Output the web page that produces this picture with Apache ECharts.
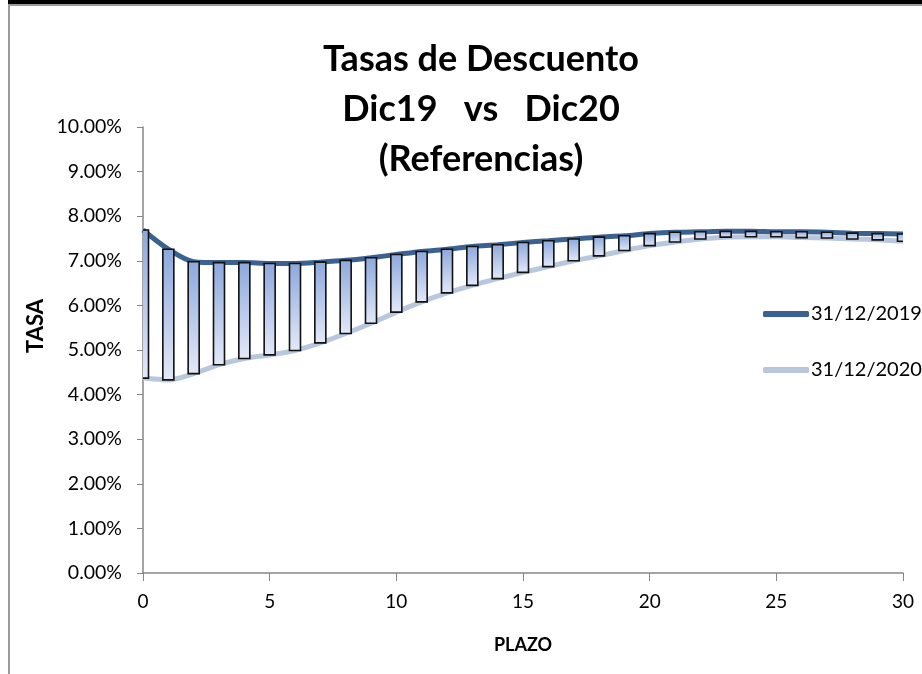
<!DOCTYPE html>
<html lang="es">
<head>
<meta charset="UTF-8">
<script src="https://cdn.jsdelivr.net/npm/echarts@6/dist/echarts.min.js"></script>
<style>
  html, body { margin: 0; padding: 0; background: #fff; }
  #main { width: 922px; height: 674px; }
</style>
</head>
<body>
<div id="main"></div>
<script>
// plazos (años)
var plazos = [0,1,2,3,4,5,6,7,8,9,10,11,12,13,14,15,16,17,18,19,20,21,22,23,24,25,26,27,28,29,30];
// tasas en %
var tasas2019 = [7.69,7.26,6.98,6.96,6.96,6.94,6.94,6.97,7.01,7.07,7.14,7.21,7.26,7.32,7.36,7.41,
                 7.45,7.49,7.53,7.56,7.61,7.64,7.65,7.66,7.66,7.65,7.65,7.64,7.62,7.61,7.60];
var tasas2020 = [4.37,4.33,4.47,4.67,4.81,4.89,4.99,5.16,5.37,5.60,5.85,6.08,6.28,6.45,6.60,6.74,
                 6.87,7.00,7.11,7.23,7.34,7.42,7.49,7.53,7.54,7.54,7.52,7.51,7.49,7.47,7.44];
var nombres = ['31/12/2019', '31/12/2020'];
var xTicks = [0, 5, 10, 15, 20, 25, 30];

var FONT = 'Lato, "Open Sans", sans-serif';

var linea2019 = plazos.map(function (p, i) { return [p, tasas2019[i]]; });
var linea2020 = plazos.map(function (p, i) { return [p, tasas2020[i]]; });
// barras arriba-abajo entre las dos curvas
var barras = plazos.map(function (p, i) { return [p, tasas2019[i], tasas2020[i]]; });

var myChart = echarts.init(document.getElementById('main'));

var option = {
    backgroundColor: '#fff',
    animation: false,
    title: {
        text: 'Tasas de Descuento\nDic19   vs   Dic20\n(Referencias)',
        left: 476,
        top: 29,
        textAlign: 'center',
        textStyle: {
            fontFamily: FONT, fontSize: 36, fontWeight: 'bold',
            color: '#000', lineHeight: 50
        }
    },
    legend: {
        orient: 'vertical',
        left: 758,
        top: 299,
        itemWidth: 46,
        itemHeight: 6,
        itemGap: 36,
        icon: 'roundRect',
        textStyle: { fontFamily: FONT, fontSize: 20, color: '#000', padding: [0, 0, 0, -3] },
        data: nombres
    },
    grid: { left: 143, right: 19, top: 127, bottom: 101, containLabel: false },
    xAxis: {
        type: 'value',
        min: 0, max: 30, interval: 5,
        name: 'PLAZO',
        nameLocation: 'middle',
        nameGap: 63,
        nameTextStyle: { fontFamily: FONT, fontSize: 18, fontWeight: 'bold', color: '#000' },
        splitLine: { show: false },
        axisLine: { lineStyle: { color: '#868686', width: 1.5 } },
        axisTick: { show: true, length: 8, lineStyle: { color: '#868686' } },
        axisLabel: {
            fontFamily: FONT, fontSize: 19, color: '#000', margin: 19,
            formatter: function (v) { return xTicks.indexOf(v) >= 0 ? String(v) : ''; }
        }
    },
    yAxis: {
        type: 'value',
        min: 0, max: 10, interval: 1,
        splitLine: { show: false },
        axisLine: { show: true, lineStyle: { color: '#868686', width: 1.5 } },
        axisTick: { show: true, length: 6, lineStyle: { color: '#868686' } },
        axisLabel: {
            fontFamily: FONT, fontSize: 19.5, color: '#000', margin: 21,
            formatter: function (v) { return v.toFixed(2) + '%'; }
        }
    },
    graphic: [
        // bordes de la hoja
        { type: 'rect', shape: { x: 8, y: 0, width: 914, height: 4 }, style: { fill: '#000' }, silent: true },
        { type: 'rect', shape: { x: 8, y: 4, width: 914, height: 2 }, style: { fill: '#9a9a9a' }, silent: true },
        { type: 'rect', shape: { x: 8, y: 4, width: 2, height: 670 }, style: { fill: '#9a9a9a' }, silent: true },
        { type: 'rect', shape: { x: 194, y: 0, width: 2, height: 4 }, style: { fill: '#000' }, silent: true },
        {
            type: 'text', x: 36, y: 326, rotation: Math.PI / 2,
            style: {
                text: 'TASA', fontFamily: FONT, fontSize: 22, fontWeight: 'bold',
                fill: '#000', align: 'center', verticalAlign: 'middle'
            }
        }
    ],
    series: [
        {
            name: nombres[1],
            type: 'line',
            data: linea2020,
            smooth: 0.3,
            symbol: 'none',
            z: 2,
            itemStyle: { color: '#B9C7DE' },
            lineStyle: { color: '#B9C7DE', width: 5 }
        },
        {
            name: nombres[0],
            type: 'line',
            data: linea2019,
            smooth: 0.3,
            symbol: 'none',
            z: 3,
            itemStyle: { color: '#3B6191' },
            lineStyle: { color: '#3B6191', width: 5 }
        },
        {
            type: 'custom',
            z: 4,
            clip: true,
            data: barras,
            encode: { x: 0, y: [1, 2] },
            renderItem: function (params, api) {
                var x = api.value(0);
                var alto = api.coord([x, api.value(1)]);
                var bajo = api.coord([x, api.value(2)]);
                var w = 11;
                return {
                    type: 'rect',
                    shape: { x: alto[0] - w / 2, y: alto[1], width: w, height: bajo[1] - alto[1] },
                    style: {
                        fill: new echarts.graphic.LinearGradient(0, 0, 0, 1, [
                            { offset: 0, color: '#8CA8DC' },
                            { offset: 1, color: '#E4E9F8' }
                        ]),
                        stroke: '#111',
                        lineWidth: 1.6
                    }
                };
            }
        }
    ]
};

myChart.setOption(option);
</script>
</body>
</html>
